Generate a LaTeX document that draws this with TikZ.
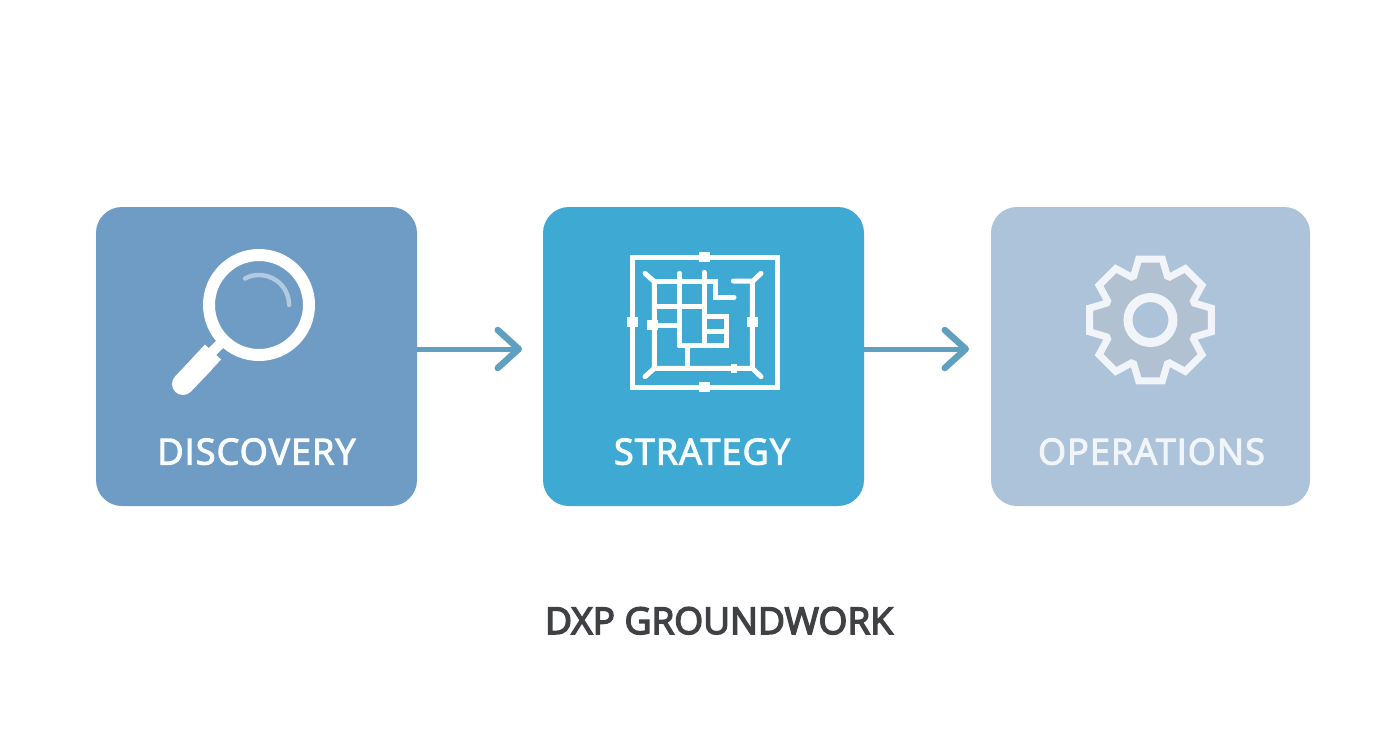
\documentclass[tikz,border=0pt]{standalone}
\usepackage{fontspec}
\setmainfont{Open Sans}
\newfontfamily\cardfont{Open Sans}[FakeBold=3,LetterSpace=3]
\newfontfamily\titlefont{Open Sans}[FakeBold=4]
\usetikzlibrary{arrows.meta,calc}
\definecolor{cDisc}{HTML}{6F9CC4}
\definecolor{cStrat}{HTML}{3EA9D2}
\definecolor{cOps}{HTML}{ADC3D9}
\definecolor{cArrow}{HTML}{5F9FC0}
\definecolor{cOpsInk}{HTML}{F1F5F9}
\definecolor{cGearFill}{HTML}{B1C1D1}
\definecolor{cGlint}{HTML}{B3C9DF}
\definecolor{cTitle}{HTML}{3F4144}
\tikzset{
  card/.style={rectangle,rounded corners=26pt,minimum width=#1,minimum height=299pt,inner sep=0pt},
  cardlabel/.style={font=\cardfont\fontsize{36}{44}\selectfont,inner sep=0pt,anchor=base},
  flow/.style={draw=cArrow,line width=5pt,-{Straight Barb[round,length=21pt,width=38pt,line width=6.5pt]}},
  planline/.style={draw=white,line width=5pt,line cap=round},
  plansq/.style={fill=white},
}
\begin{document}
\begin{tikzpicture}[x=1pt,y=-1pt]
\path[use as bounding box,fill=white] (0,0) rectangle (1392,752);

% cards
\node[card=321pt,fill=cDisc] (disc) at (256.5,356.5) {};
\node[card=321pt,fill=cStrat] (strat) at (703.5,356.5) {};
\node[card=319pt,fill=cOps] (ops) at (1150.5,356.5) {};

% labels
\node[cardlabel,text=white!96!cDisc] (ldisc) at (256.5,464.5) {DISCOVERY};
\node[cardlabel,text=white!96!cStrat] (lstrat) at (702,464.5) {STRATEGY};
\node[cardlabel,text=cOpsInk] (lops) at (1151.5,464.5) {OPERATIONS};
\node[font=\titlefont\fontsize{37}{44}\selectfont,text=cTitle,inner sep=0pt,anchor=base] (title) at (719,634) {DXP GROUNDWORK};

% connectors
\coordinate (tipA) at (522,349);
\coordinate (tipB) at (969,349);
\draw[flow] (disc.east |- tipA) -- (tipA);
\draw[flow] (strat.east |- tipB) -- (tipB);

% magnifier
\draw[white,line width=22pt,line cap=round] (183,384) -- (203,363);
\draw[white,line width=22pt] (200,366) -- (213,352);
\draw[white,line width=10pt] (209,355) -- (226,338);
\draw[white,line width=12pt] (259,305) circle (50);
\draw[cGlint,line width=4.5pt,line cap=round] (245,278.5) arc[start angle=118,end angle=0,radius=30pt];

% floor plan
\begin{scope}[shift={(610,235)},scale=1/3]
  \draw[planline,line join=miter,line cap=butt] (68,68) rectangle (503,457);
  \foreach \p in {(283,66),(68,262),(283,457),(427,262),(128,270)}
    \fill[plansq] \p ++(-16,-15) rectangle ++(32,30);
  \fill[plansq] (372,400) ++(-10,-14) rectangle ++(20,28);
  \draw[planline] (105,115) -- (133,140) -- (133,400) -- (427,400) -- (427,138) -- (370,138);
  \draw[planline] (453,115) -- (427,140);
  \draw[planline] (105,425) -- (133,400);
  \draw[planline] (453,425) -- (427,400);
  \draw[planline,line join=miter] (133,138) -- (315,138) -- (315,187) -- (372,187);
  \draw[planline] (208,115) -- (208,332);
  \draw[planline] (282,112) -- (282,332);
  \draw[planline] (133,215) -- (282,215);
  \draw[planline] (133,272) -- (208,272);
  \draw[planline,line join=miter] (208,332) -- (350,332) -- (350,245) -- (285,245);
  \draw[planline] (285,290) -- (350,290);
  \draw[planline] (232,332) -- (232,400);
\end{scope}

% gear
\begin{scope}[shift={(1150.5,320)}]
  \draw[draw=cOpsInk,fill=cGearFill,line width=7pt,line join=miter]
    (-21:47) -- (-11:62) -- (11:62) -- (21:47)
    -- (24:47) -- (34:62) -- (56:62) -- (66:47)
    -- (69:47) -- (79:62) -- (101:62) -- (111:47)
    -- (114:47) -- (124:62) -- (146:62) -- (156:47)
    -- (159:47) -- (169:62) -- (191:62) -- (201:47)
    -- (204:47) -- (214:62) -- (236:62) -- (246:47)
    -- (249:47) -- (259:62) -- (281:62) -- (291:47)
    -- (294:47) -- (304:62) -- (326:62) -- (336:47)
    -- cycle;
  \draw[draw=cOpsInk,fill=cOps,line width=9pt] (0,0) circle (22.5);
\end{scope}
\end{tikzpicture}
\end{document}
